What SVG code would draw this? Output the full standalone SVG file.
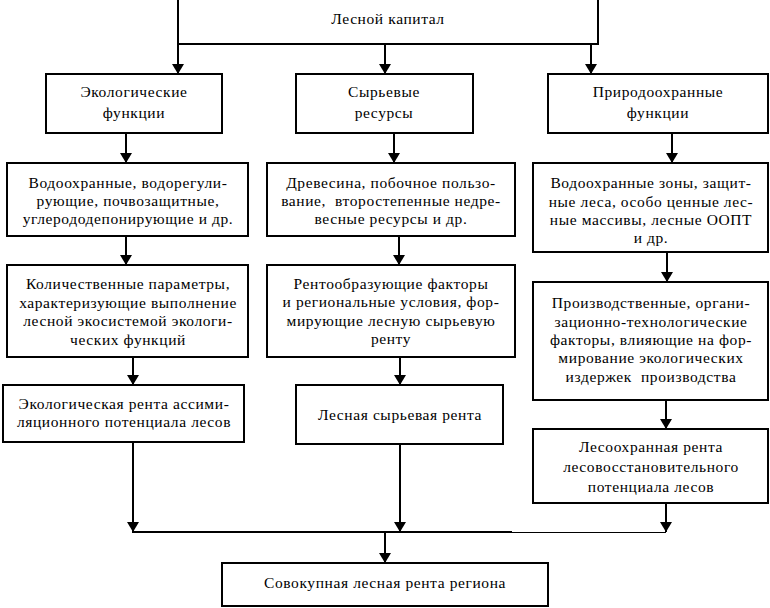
<svg xmlns="http://www.w3.org/2000/svg" width="770" height="608" viewBox="0 0 770 608">
<style>
rect.box{fill:#fff;stroke:#000;stroke-width:2}
text{font-family:"Liberation Serif","Times New Roman",serif;font-size:15.5px;fill:#000;text-anchor:middle;letter-spacing:0.6px;white-space:pre}
.c{fill:none;stroke:#000;stroke-width:2}
.thin{fill:none;stroke:#000;stroke-width:1}
</style>
<defs>
<marker id="ah" viewBox="0 0 10 12" refX="10" refY="6" markerWidth="10" markerHeight="12" markerUnits="userSpaceOnUse" orient="auto">
<path d="M0,0 L10,6 L0,12 z" fill="#000"/>
</marker>
</defs>
<rect width="770" height="608" fill="#fff"/>
<g id="connectors">
<path class="c" d="M178,44 V74" marker-end="url(#ah)"/>
<path class="c" d="M385,44 V74" marker-end="url(#ah)"/>
<path class="c" d="M591,44 V74" marker-end="url(#ah)"/>
<path class="c" d="M126,133 V163" marker-end="url(#ah)"/>
<path class="c" d="M394,133 V163" marker-end="url(#ah)"/>
<path class="c" d="M672,133 V163" marker-end="url(#ah)"/>
<path class="c" d="M126,236 V265" marker-end="url(#ah)"/>
<path class="c" d="M399,236 V265" marker-end="url(#ah)"/>
<path class="c" d="M667,252 V282" marker-end="url(#ah)"/>
<path class="c" d="M133,357 V385" marker-end="url(#ah)"/>
<path class="c" d="M400,357 V385" marker-end="url(#ah)"/>
<path class="c" d="M666,400 V429" marker-end="url(#ah)"/>
<path class="c" d="M133,442 V532" marker-end="url(#ah)"/>
<path class="c" d="M400,444 V532" marker-end="url(#ah)"/>
<path class="c" d="M666,503 V532" marker-end="url(#ah)"/>
<path class="c" d="M132,532 H512"/>
<path class="thin" d="M512,532.5 H666"/>
<path class="c" d="M385,532 V563" marker-end="url(#ah)"/>
</g>
<g id="n0"><rect class="box" x="178" y="-5" width="420" height="49"/><text x="388" y="24">Лесной капитал</text></g>
<g id="n1"><rect class="box" x="46" y="74" width="176" height="59"/><text x="134" y="97">Экологические</text><text x="134" y="118">функции</text></g>
<g id="n2"><rect class="box" x="296" y="74" width="177" height="59"/><text x="384" y="97">Сырьевые</text><text x="384" y="118">ресурсы</text></g>
<g id="n3"><rect class="box" x="548" y="74" width="220" height="59"/><text x="658" y="97">Природоохранные</text><text x="658" y="118">функции</text></g>
<g id="n4"><rect class="box" x="7" y="163" width="241" height="73"/><text x="128" y="188">Водоохранные, водорегули-</text><text x="128" y="206">рующие, почвозащитные,</text><text x="128" y="224">углерододепонирующие и др.</text></g>
<g id="n5"><rect class="box" x="267" y="163" width="248" height="73"/><text x="391" y="188">Древесина, побочное пользо-</text><text x="391" y="206">вание,  второстепенные недре-</text><text x="391" y="224">весные ресурсы и др.</text></g>
<g id="n6"><rect class="box" x="533" y="163" width="235" height="89"/><text x="651" y="188">Водоохранные зоны, защит-</text><text x="651" y="207">ные леса, особо ценные лес-</text><text x="651" y="225">ные массивы, лесные ООПТ</text><text x="651" y="243">и др.</text></g>
<g id="n7"><rect class="box" x="7" y="265" width="241" height="92"/><text x="128" y="289">Количественные параметры,</text><text x="128" y="308">характеризующие выполнение</text><text x="128" y="326">лесной экосистемой экологи-</text><text x="128" y="345">ческих функций</text></g>
<g id="n8"><rect class="box" x="267" y="265" width="248" height="92"/><text x="391" y="289">Рентообразующие факторы</text><text x="391" y="307">и региональные условия, фор-</text><text x="391" y="326">мирующие лесную сырьевую</text><text x="391" y="344">ренту</text></g>
<g id="n9"><rect class="box" x="533" y="282" width="235" height="118"/><text x="651" y="308">Производственные, органи-</text><text x="651" y="327">зационно-технологические</text><text x="651" y="345">факторы, влияющие на фор-</text><text x="651" y="363">мирование экологических</text><text x="651" y="382">издержек  производства</text></g>
<g id="n10"><rect class="box" x="3" y="385" width="241" height="57"/><text x="124" y="409">Экологическая рента ассими-</text><text x="124" y="427">ляционного потенциала лесов</text></g>
<g id="n11"><rect class="box" x="296" y="385" width="207" height="59"/><text x="400" y="420">Лесная сырьевая рента</text></g>
<g id="n12"><rect class="box" x="533" y="429" width="235" height="74"/><text x="651" y="452">Лесоохранная рента</text><text x="651" y="472">лесовосстановительного</text><text x="651" y="492">потенциала лесов</text></g>
<g id="n13"><rect class="box" x="222" y="563" width="326" height="43"/><text x="385" y="588">Совокупная лесная рента региона</text></g>
</svg>
